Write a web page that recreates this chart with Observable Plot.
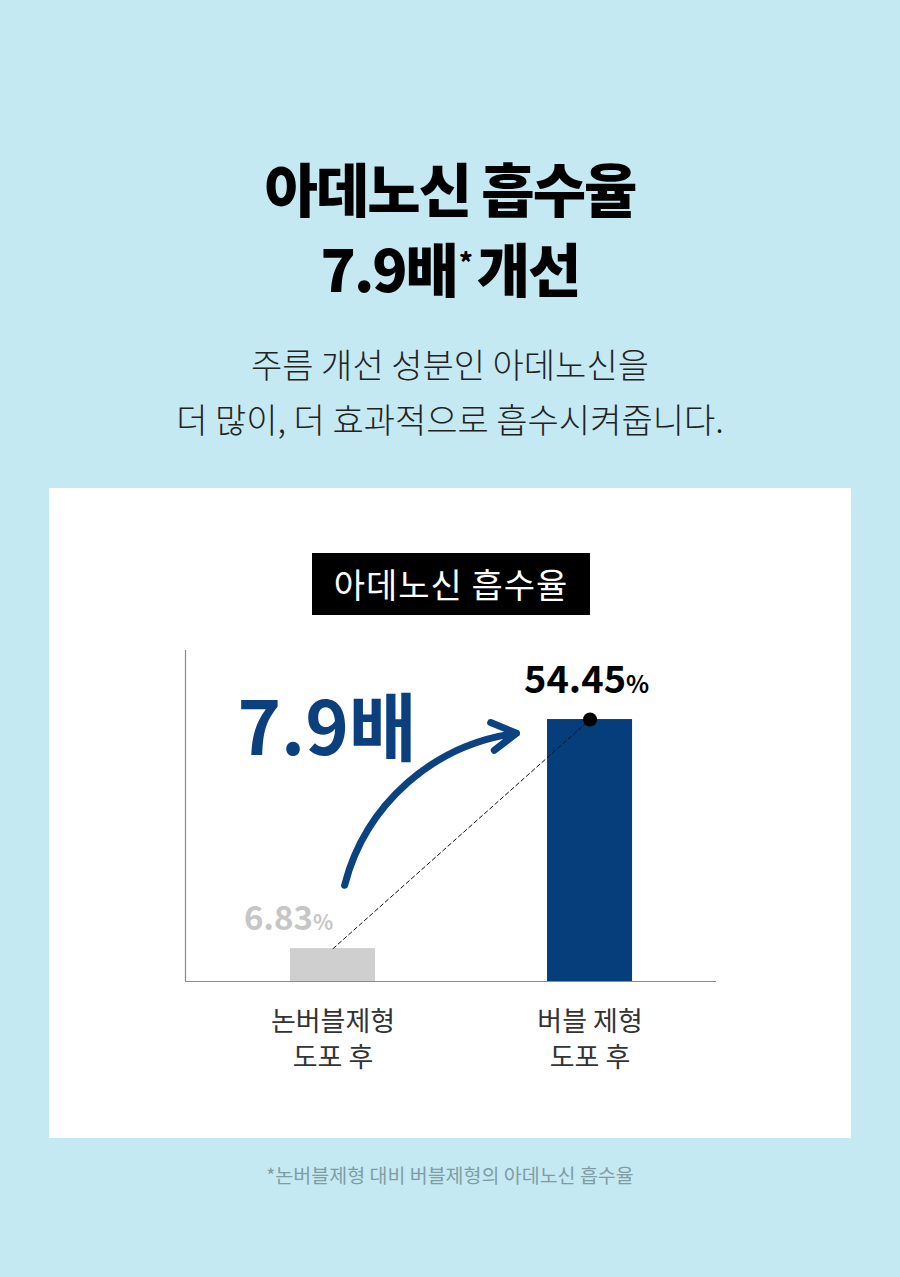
<!DOCTYPE html>
<html><head><meta charset="utf-8">
<script src="https://cdn.jsdelivr.net/npm/d3@7"></script>
<script src="https://cdn.jsdelivr.net/npm/@observablehq/plot@0.6"></script>
<style>
html,body{margin:0;padding:0}
body{width:900px;height:1277px;background:#c5e9f2;position:relative;overflow:hidden;font-family:"Noto Sans CJK KR","Noto Sans",sans-serif;}
#title{position:absolute;top:147px;left:0;width:900px;text-align:center;font-size:58px;font-weight:900;line-height:80px;letter-spacing:-2px;color:#000}
#title sup{font-size:26px;vertical-align:top;position:relative;top:-6px;margin-left:2px;margin-right:6px}
#sub{position:absolute;top:336px;left:0;width:900px;text-align:center;font-size:34px;line-height:55px;color:#222;font-weight:300;letter-spacing:0}
#panel{position:absolute;left:49px;top:488px;width:802px;height:650px;background:#fff}
#badge{position:absolute;left:263px;top:65px;width:278px;height:62px;background:#000;color:#fff;font-size:34px;line-height:62px;text-align:center;letter-spacing:1px}
#chart{position:absolute;left:0;top:0}
#note{position:absolute;top:1160px;left:0;width:900px;text-align:center;font-size:19.5px;line-height:30px;color:#7f9ca4}
</style>
</head><body>
<div id="title">아데노신 흡수율<br>7.9배<sup>*</sup>개선</div>
<div id="sub">주름 개선 성분인 아데노신을<br>더 많이, 더 효과적으로 흡수시켜줍니다.</div>
<div id="panel"><div id="chart"></div><div id="badge">아데노신 흡수율</div></div>
<div id="note">*논버블제형 대비 버블제형의 아데노신 흡수율</div>
<script>
const categories = ["논버블제형\n도포 후", "버블 제형\n도포 후"];
const values = [6.83, 54.45];
const valueLabels = ["6.83", "54.45"];
const barColors = ["#cfcfcf", "#053e7b"];
const labelColors = ["#c6c6c6", "#000000"];
const multiplierLabel = "7.9배";
const multiplierPos = [{x: -0.372, y: 47}];
const arrowPos = [{x1: 0.045, y1: 20, x2: 0.714, y2: 51.6}];

const bars = categories.map((c, i) => ({i, cat: c, v: values[i], label: valueLabels[i]}));
const xMin = -0.574, xMax = 1.492, yMax = 68.8, half = 0.1654;

const chart = Plot.plot({
  width: 802, height: 650,
  marginLeft: 136, marginRight: 135, marginTop: 162, marginBottom: 157,
  x: {type: "linear", domain: [xMin, xMax]},
  y: {domain: [0, yMax], axis: null},
  color: {type: "identity"},
  style: {background: "transparent", overflow: "visible", fontFamily: "'Noto Sans CJK KR', sans-serif"},
  marks: [
    Plot.rectY(bars, {x1: d => d.i - half, x2: d => d.i + half, y: "v", fill: d => barColors[d.i]}),
    Plot.ruleY([0], {stroke: "#8c8c8c", strokeWidth: 1.2}),
    Plot.ruleX([xMin], {y1: 0, y2: yMax, stroke: "#8c8c8c", strokeWidth: 1.2}),
    Plot.axisX({ticks: [0, 1], tickFormat: i => categories[i], tickSize: 0, tickPadding: 24,
      fontSize: 27, lineHeight: 1.33, fill: "#333", label: null}),
    Plot.line(bars, {x: "i", y: "v", stroke: "#111", strokeWidth: 1, strokeDasharray: "4,3"}),
    Plot.dot(bars.filter(d => d.i === 1), {x: "i", y: "v", r: 7, fill: "#000"}),
    Plot.text(bars.filter(d => d.i === 0), {x: "i", y: "v", text: "label", textAnchor: "end", dx: -20, dy: -19, lineAnchor: "bottom",
      fontSize: 33, fontWeight: 700, letterSpacing: -1, fill: d => labelColors[d.i]}),
    Plot.text(bars.filter(d => d.i === 0), {x: "i", y: "v", text: () => "%", textAnchor: "start", dx: -20, dy: -19, lineAnchor: "bottom",
      fontSize: 21, fontWeight: 700, fill: d => labelColors[d.i]}),
    Plot.text(bars.filter(d => d.i === 1), {x: "i", y: "v", text: "label", textAnchor: "end", dx: 36, dy: -27, lineAnchor: "bottom",
      fontSize: 38, fontWeight: 700, letterSpacing: -1, fill: d => labelColors[d.i]}),
    Plot.text(bars.filter(d => d.i === 1), {x: "i", y: "v", text: () => "%", textAnchor: "start", dx: 36, dy: -27, lineAnchor: "bottom",
      fontSize: 24, fontWeight: 700, fill: d => labelColors[d.i]}),
    Plot.arrow(arrowPos, {x1: "x1", y1: "y1", x2: "x2", y2: "y2", bend: 34, stroke: "#0a4282", strokeWidth: 7, headLength: 6}),
    Plot.text(multiplierPos, {x: "x", y: "y", text: () => multiplierLabel, textAnchor: "start", lineAnchor: "bottom",
      fontSize: 74, fontWeight: 700, letterSpacing: -6, fill: "#0b3f7e"})
  ]
});
document.getElementById("chart").appendChild(chart);
</script>
</body></html>
